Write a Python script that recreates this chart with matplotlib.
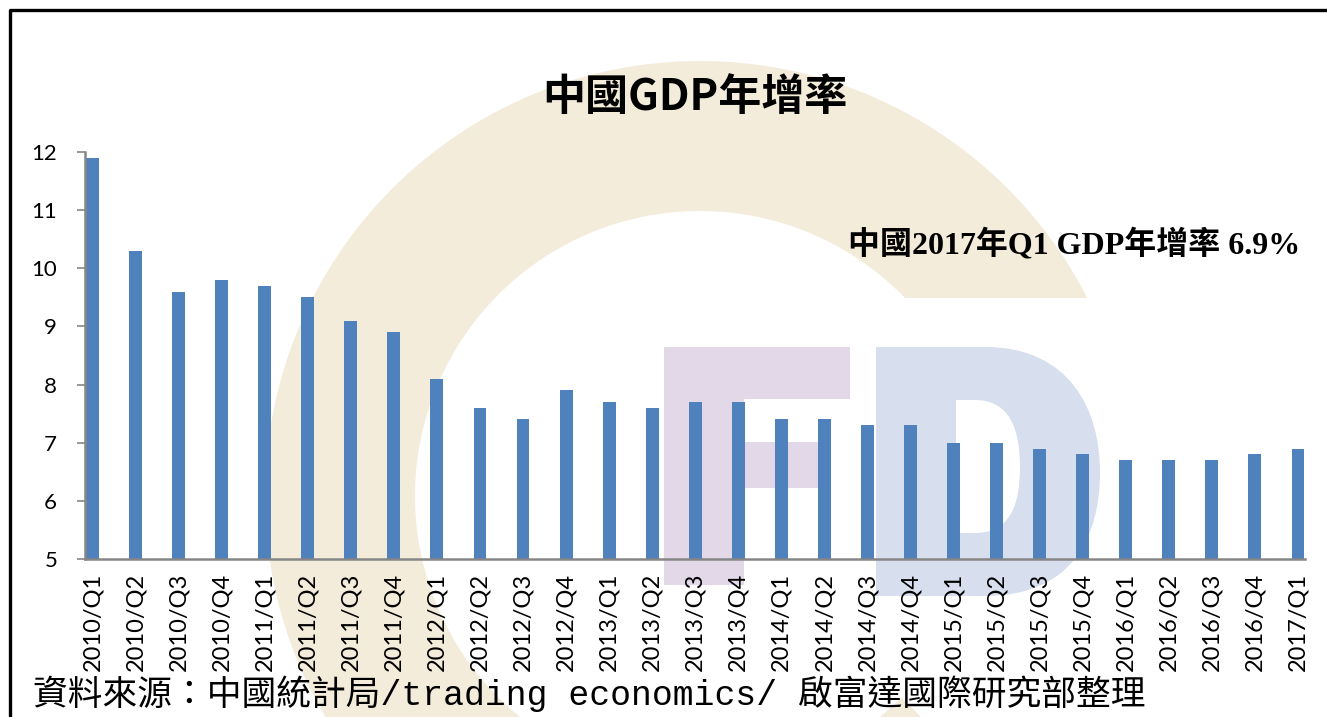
import matplotlib
matplotlib.use('Agg')
import matplotlib.pyplot as plt
from matplotlib.patches import Wedge, Rectangle, PathPatch, Polygon
from matplotlib.path import Path

quarters = ['2010/Q1', '2010/Q2', '2010/Q3', '2010/Q4',
            '2011/Q1', '2011/Q2', '2011/Q3', '2011/Q4',
            '2012/Q1', '2012/Q2', '2012/Q3', '2012/Q4',
            '2013/Q1', '2013/Q2', '2013/Q3', '2013/Q4',
            '2014/Q1', '2014/Q2', '2014/Q3', '2014/Q4',
            '2015/Q1', '2015/Q2', '2015/Q3', '2015/Q4',
            '2016/Q1', '2016/Q2', '2016/Q3', '2016/Q4',
            '2017/Q1']
gdp_growth = [11.9, 10.3, 9.6, 9.8,
              9.7, 9.5, 9.1, 8.9,
              8.1, 7.6, 7.4, 7.9,
              7.7, 7.6, 7.7, 7.7,
              7.4, 7.4, 7.3, 7.3,
              7.0, 7.0, 6.9, 6.8,
              6.7, 6.7, 6.7, 6.8,
              6.9]
y_ticks = [5, 6, 7, 8, 9, 10, 11, 12]

W, H = 1327, 717
fig = plt.figure(figsize=(W / 100, H / 100), dpi=100)
fig.patch.set_facecolor('white')

# background layer in pixel coords (y measured from top)
bg = fig.add_axes([0, 0, 1, 1], zorder=0)
bg.set_xlim(0, W)
bg.set_ylim(H, 0)
bg.axis('off')

# watermark "C" arc (y is inverted, so angles run clockwise on screen)
c_arc = Wedge((700, 496), 435, 45, 340, width=150,
              facecolor='#F4ECDA', edgecolor='none')
bg.add_patch(c_arc)
# cut the upper end of the C flat
clip = Polygon([(0, 0), (W, 0), (W, 298), (860, 298), (860, 650),
                (W, 650), (W, H), (0, H)],
               closed=True, transform=bg.transData, visible=False)
bg.add_patch(clip)
c_arc.set_clip_path(clip)

# watermark "F"
f_col = '#E2D8E8'
bg.add_patch(Rectangle((664, 347), 80, 238, facecolor=f_col, edgecolor='none'))
bg.add_patch(Rectangle((664, 347), 186, 52, facecolor=f_col, edgecolor='none'))
bg.add_patch(Rectangle((664, 442), 154, 46, facecolor=f_col, edgecolor='none'))

# watermark "D"
verts = [(876, 347), (985, 347), (1070, 347), (1100, 410), (1100, 472),
         (1100, 540), (1070, 596), (985, 596), (876, 596), (876, 347),
         (956, 400), (956, 533), (975, 533), (1010, 533), (1020, 505),
         (1020, 467), (1020, 430), (1010, 400), (975, 400), (956, 400)]
codes = [Path.MOVETO, Path.LINETO, Path.CURVE4, Path.CURVE4, Path.CURVE4,
         Path.CURVE4, Path.CURVE4, Path.CURVE4, Path.LINETO, Path.CLOSEPOLY,
         Path.MOVETO, Path.LINETO, Path.LINETO, Path.CURVE4, Path.CURVE4,
         Path.CURVE4, Path.CURVE4, Path.CURVE4, Path.CURVE4, Path.CLOSEPOLY]
bg.add_patch(PathPatch(Path(verts, codes), facecolor='#D7DFEE', edgecolor='none'))

# outer frame
bg.plot([10, 10, W], [H, 10, 10], color='black', lw=2.4, solid_capstyle='butt')

# main chart
ax = fig.add_axes([85 / W, 1 - 559 / H, (1305 - 85) / W, (559 - 152) / H], zorder=1)
ax.patch.set_alpha(0)
x = list(range(len(quarters)))
ax.bar(x, gdp_growth, width=0.30, color='#4F81BD', zorder=2)
ax.set_ylim(5, 12)
ax.set_xlim(-0.174, len(quarters) - 1 + 0.163)
ax.set_yticks(y_ticks)
ax.set_yticklabels([str(v) for v in y_ticks], fontsize=16, family='Lato')
ax.set_xticks(x)
ax.set_xticklabels(quarters, rotation=90, fontsize=17, family='Lato')
ax.tick_params(axis='x', length=0, pad=10)
ax.tick_params(axis='y', length=6, width=1.2, color='#868686', pad=14)
for s in ['top', 'right']:
    ax.spines[s].set_visible(False)
for s in ['left', 'bottom']:
    ax.spines[s].set_color('#868686')
    ax.spines[s].set_linewidth(1.8)

# texts
fig.text(695 / W, 1 - 97 / H, '中國GDP年增率', ha='center', va='center',
         fontsize=31, fontweight='bold', family=['Noto Sans CJK TC', 'DejaVu Sans'])
fig.text(848 / W, 1 - 244 / H, '中國2017年Q1 GDP年增率 6.9%', ha='left', va='center',
         fontsize=23, fontweight='bold', family=['Liberation Serif', 'Noto Sans CJK TC'])
fig.text(33 / W, 1 - 694 / H, '資料來源：中國統計局/trading economics/ 啟富達國際研究部整理',
         ha='left', va='center', fontsize=25,
         family=['Liberation Mono', 'Noto Sans CJK TC'])

plt.savefig('out.png', dpi=100)
